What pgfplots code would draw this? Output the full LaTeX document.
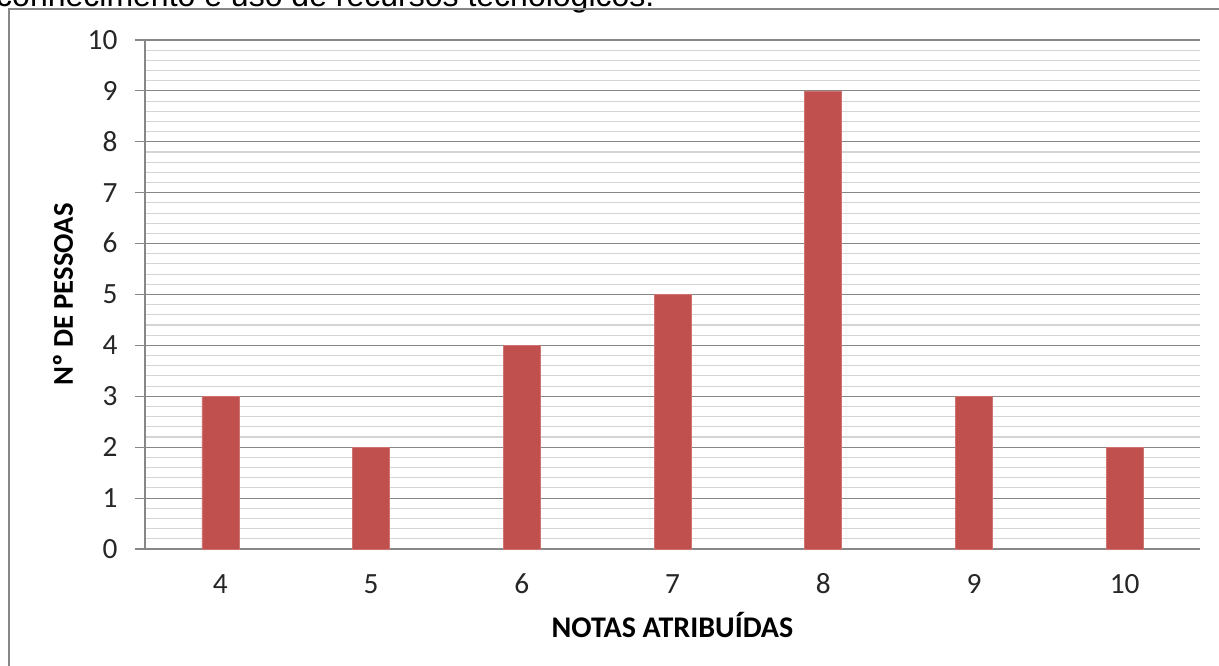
\documentclass[border=0pt]{standalone}
\usepackage{fontspec}
\setmainfont{Carlito}
\newfontfamily\arialfont{Liberation Sans}
\usepackage{pgfplots}
\pgfplotsset{compat=1.18}
\definecolor{barred}{HTML}{C0504D}
\definecolor{majgrid}{HTML}{878787}
\definecolor{mingrid}{HTML}{D4D4D4}
\begin{document}
\begin{tikzpicture}
\path[use as bounding box] (0,0) rectangle (914.25pt,499.5pt);
\node[anchor=base east, inner sep=0pt, font=\arialfont\fontsize{24pt}{26pt}\selectfont] at (491pt,494.5pt) {conhecimento e uso de recursos tecnológicos.};
\draw[draw=majgrid, line width=1.5pt] (6.4pt,-5pt) -- (6.4pt,492.5pt) -- (925pt,492.5pt);
\begin{axis}[
  at={(108.75pt,87.75pt)}, anchor=south west,
  scale only axis, width=791.25pt, height=381.75pt,
  xmin=3.5, xmax=10.5, ymin=0, ymax=10,
  xtick={4,5,6,7,8,9,10},
  ytick={0,1,...,10},
  minor y tick num=4,
  axis x line=bottom, axis y line=left,
  axis line style={-, draw=majgrid, line width=0.9pt},
  ymajorgrids, yminorgrids,
  major grid style={draw=majgrid, line width=0.8pt},
  minor grid style={draw=mingrid, line width=0.8pt},
  xtick style={draw=none},
  ytick style={draw=majgrid, line width=0.8pt},
  minor tick length=0pt,
  major tick length=7.5pt,
  tick align=outside,
  /pgf/number format/assume math mode=true,
  ticklabel style={font=\fontsize{22pt}{24pt}\selectfont, inner sep=0pt, text=black!85, text height=14pt, text depth=0pt},
  yticklabel style={anchor=east, xshift=-13pt},
  xticklabel style={anchor=north, yshift=-11.5pt},
  xlabel={NOTAS ATRIBUÍDAS},
  ylabel={Nº DE PESSOAS},
  label style={font=\bfseries\fontsize{22.5pt}{24pt}\selectfont},
  xlabel style={at={(axis description cs:0.5,-0.149)}, anchor=center},
  ylabel style={at={(axis description cs:-0.0777,0.5)}, anchor=center, rotate=0, font=\bfseries\fontsize{21.5pt}{24pt}\selectfont},
  clip=false,
]
\addplot[ybar, bar width=27.75pt, fill=barred, draw=barred!80!white, line width=0.4pt] coordinates {
  (4,3) (5,2) (6,4) (7,5) (8,9) (9,3) (10,2)
};
\end{axis}
\end{tikzpicture}
\end{document}
